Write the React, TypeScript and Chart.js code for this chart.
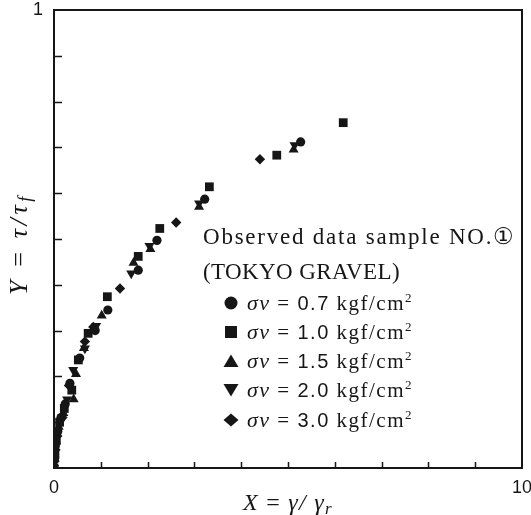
import React, { useEffect, useRef } from 'react';
import { Chart, registerables } from 'chart.js';

Chart.register(...registerables);

// ---- data (X = γ/γr, Y = τ/τf) ----
const s07X = [0, 0.01, 0.03, 0.08, 0.15, 0.24, 0.34, 0.55, 0.88, 1.15, 1.80, 2.20, 3.22, 5.27];
const s07Y = [0, 0.02, 0.05, 0.08, 0.11, 0.14, 0.185, 0.24, 0.30, 0.345, 0.432, 0.497, 0.587, 0.712];

const s10X = [0, 0.02, 0.05, 0.12, 0.22, 0.38, 0.52, 0.73, 1.14, 1.80, 2.26, 3.32, 4.76, 6.18];
const s10Y = [0, 0.03, 0.06, 0.10, 0.13, 0.17, 0.236, 0.294, 0.374, 0.462, 0.523, 0.614, 0.683, 0.754];

const s15X = [0, 0.01, 0.04, 0.10, 0.20, 0.42, 0.47, 0.64, 1.02, 1.70, 2.06, 3.10, 5.12];
const s15Y = [0, 0.03, 0.06, 0.09, 0.12, 0.15, 0.205, 0.262, 0.333, 0.448, 0.478, 0.570, 0.695];

const s20X = [0, 0.02, 0.06, 0.14, 0.28, 0.41, 0.66, 0.90, 1.65, 2.04, 3.10, 5.14];
const s20Y = [0, 0.04, 0.07, 0.10, 0.15, 0.214, 0.261, 0.31, 0.425, 0.485, 0.578, 0.705];

const s30X = [0, 0.01, 0.03, 0.07, 0.18, 0.32, 0.66, 0.84, 1.41, 2.61, 4.40];
const s30Y = [0, 0.015, 0.04, 0.07, 0.11, 0.18, 0.276, 0.308, 0.392, 0.536, 0.674];

const seriesValues = ['0.7', '1.0', '1.5', '2.0', '3.0'];
const seriesShapes = ['circle', 'rect', 'triangle', 'triangleDown', 'rectRot'];

const xTickValues = [0, 10];
const xTickLabels = ['0', '10'];
const yTickValues = [1];
const yTickLabels = ['1'];

const titleLine1 = 'Observed data sample NO.\u2460';
const titleLine2 = '(TOKYO GRAVEL)';

const INK = '#161616';

const zip = (xs: number[], ys: number[]) => xs.map((x, i) => ({ x, y: ys[i] }));

type Seg = { t: string; f: string; dy?: number; ls?: number };

function drawSegs(ctx: CanvasRenderingContext2D, segs: Seg[], x: number, y: number) {
  let cx = x;
  for (const s of segs) {
    ctx.font = s.f;
    (ctx as any).letterSpacing = (s.ls || 0) + 'px';
    ctx.fillText(s.t, cx, y + (s.dy || 0));
    cx += ctx.measureText(s.t).width;
  }
  (ctx as any).letterSpacing = '0px';
  return cx - x;
}

function segsWidth(ctx: CanvasRenderingContext2D, segs: Seg[]) {
  let w = 0;
  for (const s of segs) {
    ctx.font = s.f;
    (ctx as any).letterSpacing = (s.ls || 0) + 'px';
    w += ctx.measureText(s.t).width;
  }
  (ctx as any).letterSpacing = '0px';
  return w;
}

function charCount(segs: Seg[]) {
  return segs.reduce((n, s) => n + Array.from(s.t).length, 0);
}

// spread extra width evenly as letter spacing over all segments
function fitSegs(ctx: CanvasRenderingContext2D, segs: Seg[], target: number) {
  const base = segsWidth(ctx, segs);
  const ls = (target - base) / charCount(segs);
  return segs.map((s) => ({ ...s, ls: (s.ls || 0) + ls }));
}

function fitText(ctx: CanvasRenderingContext2D, text: string, font: string, x: number, y: number, target: number) {
  ctx.font = font;
  (ctx as any).letterSpacing = '0px';
  const w = ctx.measureText(text).width;
  const n = Array.from(text).length;
  const ls = n > 1 ? (target - w) / n : 0;
  (ctx as any).letterSpacing = ls + 'px';
  ctx.fillText(text, x, y);
  (ctx as any).letterSpacing = '0px';
}

function drawMarker(ctx: CanvasRenderingContext2D, shape: string, x: number, y: number) {
  ctx.beginPath();
  if (shape === 'circle') {
    ctx.arc(x, y, 6.5, 0, Math.PI * 2);
  } else if (shape === 'rect') {
    ctx.rect(x - 6, y - 6, 12, 12);
  } else if (shape === 'triangle') {
    ctx.moveTo(x, y - 6.5);
    ctx.lineTo(x + 7.5, y + 6);
    ctx.lineTo(x - 7.5, y + 6);
    ctx.closePath();
  } else if (shape === 'triangleDown') {
    ctx.moveTo(x - 7.5, y - 6);
    ctx.lineTo(x + 7.5, y - 6);
    ctx.lineTo(x, y + 6.5);
    ctx.closePath();
  } else {
    ctx.moveTo(x, y - 6.5);
    ctx.lineTo(x + 7.5, y);
    ctx.lineTo(x, y + 6.5);
    ctx.lineTo(x - 7.5, y);
    ctx.closePath();
  }
  ctx.fill();
}

const decoPlugin = {
  id: 'deco',
  afterDraw(chart: any) {
    const { ctx, chartArea: a, scales } = chart;
    const xs = scales.x;
    const ys = scales.y;
    ctx.save();
    ctx.strokeStyle = INK;
    ctx.fillStyle = INK;

    // frame
    ctx.lineWidth = 2;
    ctx.strokeRect(a.left, a.top, a.right - a.left, a.bottom - a.top);

    // inward ticks
    ctx.lineWidth = 1.5;
    ctx.beginPath();
    for (const t of xs.ticks) {
      if (t.value <= xs.min || t.value >= xs.max) continue;
      const px = Math.round(xs.getPixelForValue(t.value)) + 0.5;
      ctx.moveTo(px, a.bottom);
      ctx.lineTo(px, a.bottom - 6);
    }
    for (const t of ys.ticks) {
      if (t.value <= ys.min + 1e-9 || t.value >= ys.max - 1e-9) continue;
      const py = Math.round(ys.getPixelForValue(t.value)) + 0.5;
      ctx.moveTo(a.left, py);
      ctx.lineTo(a.left + 8, py);
    }
    ctx.stroke();

    // legend title
    ctx.textBaseline = 'alphabetic';
    ctx.textAlign = 'left';
    fitText(ctx, titleLine1, '23px "Liberation Serif"', 203, 244, 313);
    fitText(ctx, titleLine2, '23px "Liberation Serif"', 203, 279, 197);

    // legend items
    const rowY = [303, 332, 361, 390, 420];
    seriesValues.forEach((val, i) => {
      const cy = rowY[i];
      drawMarker(ctx, seriesShapes[i], 231, cy);
      const segs: Seg[] = [
        { t: '\u03C3v', f: 'italic 22px "Liberation Serif"' },
        { t: ' = ', f: '21px "Liberation Serif"' },
        { t: val, f: '20px "Liberation Sans"' },
        { t: ' kgf/cm', f: '21px "Liberation Serif"' },
        { t: '2', f: '13px "Liberation Serif"', dy: -8 },
      ];
      drawSegs(ctx, fitSegs(ctx, segs, 166), 247, cy + 7);
    });

    // x title
    const xSegs: Seg[] = [
      { t: 'X', f: 'italic 24px "Liberation Serif"' },
      { t: ' = ', f: '24px "Liberation Serif"' },
      { t: '\u03B3/ \u03B3', f: 'italic 24px "Liberation Serif"' },
      { t: 'r', f: 'italic 17px "Liberation Serif"', dy: 4 },
    ];
    const xf = fitSegs(ctx, xSegs, 90);
    drawSegs(ctx, xf, (a.left + a.right) / 2 - 45, 510);

    // y title (rotated)
    const ySegs: Seg[] = [
      { t: 'Y', f: 'italic 26px "Liberation Serif"' },
      { t: ' = ', f: '26px "Liberation Serif"' },
      { t: '\u03C4/\u03C4', f: 'italic 26px "Liberation Serif"' },
      { t: 'f', f: 'italic 18px "Liberation Serif"', dy: 4 },
    ];
    const yf = fitSegs(ctx, ySegs, 102);
    ctx.translate(27, 244);
    ctx.rotate(-Math.PI / 2);
    drawSegs(ctx, yf, -51, 0);

    ctx.restore();
  },
};

export default function App() {
  const ref = useRef<HTMLCanvasElement | null>(null);

  useEffect(() => {
    if (!ref.current) return;
    const mk = (xs: number[], ys: number[], style: string, radius: number, rotation = 0) => ({
      data: zip(xs, ys),
      pointStyle: style,
      pointRadius: radius,
      pointRotation: rotation,
      backgroundColor: INK,
      borderColor: INK,
      borderWidth: 0,
      showLine: false,
    });
    const zeroPad = (s: any) => {
      s.paddingLeft = 0;
      s.paddingRight = 0;
      s.paddingTop = 0;
      s.paddingBottom = 0;
    };
    const chart = new Chart(ref.current, {
      type: 'scatter',
      data: {
        datasets: [
          mk(s07X, s07Y, 'circle', 4.6),
          mk(s10X, s10Y, 'rect', 6.2),
          mk(s15X, s15Y, 'triangle', 5.8),
          mk(s20X, s20Y, 'triangle', 5.8, 180),
          mk(s30X, s30Y, 'rectRot', 5.2),
        ] as any,
      },
      options: {
        animation: false,
        responsive: false,
        devicePixelRatio: 1,
        layout: { padding: { top: 10, right: 9, left: 0, bottom: 0 } },
        plugins: { legend: { display: false }, tooltip: { enabled: false } },
        scales: {
          x: {
            type: 'linear',
            min: 0,
            max: 10,
            grid: { display: false, drawTicks: false },
            border: { display: false },
            ticks: {
              stepSize: 1,
              autoSkip: false,
              maxRotation: 0,
              padding: 9,
              color: INK,
              font: { family: 'Liberation Sans', size: 18 },
              callback: (v: any) => {
                const i = xTickValues.findIndex((t) => Math.abs(t - Number(v)) < 1e-6);
                return i >= 0 ? xTickLabels[i] : '';
              },
            },
            afterFit: (s: any) => {
              s.height = 47;
              zeroPad(s);
            },
          },
          y: {
            type: 'linear',
            min: 0,
            max: 1,
            grid: { display: false, drawTicks: false },
            border: { display: false },
            ticks: {
              stepSize: 0.1,
              autoSkip: false,
              padding: 11,
              color: INK,
              font: { family: 'Liberation Sans', size: 18 },
              callback: (v: any) => {
                const i = yTickValues.findIndex((t) => Math.abs(t - Number(v)) < 1e-6);
                return i >= 0 ? yTickLabels[i] : '';
              },
            },
            afterFit: (s: any) => {
              s.width = 54;
              zeroPad(s);
            },
          },
        },
      } as any,
      plugins: [decoPlugin],
    });
    return () => chart.destroy();
  }, []);

  return (
    <div style={{ position: 'fixed', left: 0, top: 0, width: 531, height: 515, background: '#fff' }}>
      <canvas ref={ref} width={531} height={515} style={{ display: 'block' }} />
    </div>
  );
}
